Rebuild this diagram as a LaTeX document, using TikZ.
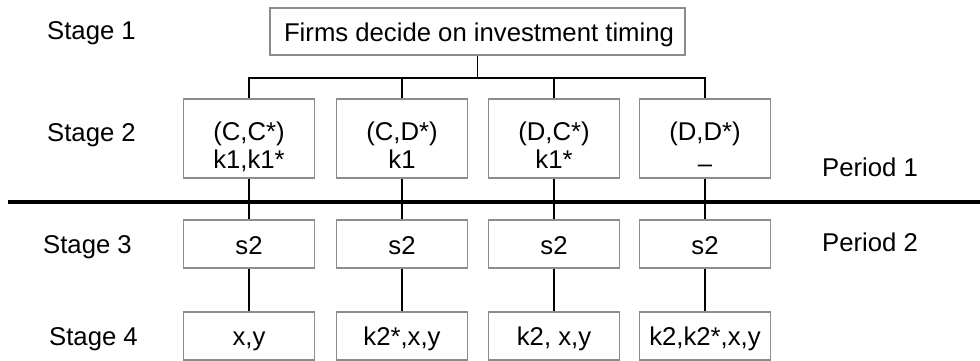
\documentclass[tikz,border=0pt]{standalone}
\usepackage{fontspec}
\setmainfont{Liberation Sans}
\definecolor{boxgray}{HTML}{8C8C8C}
\begin{document}
\begin{tikzpicture}[x=1pt,y=-1pt,
  font=\fontsize{25.7}{28}\selectfont,
  box/.style={draw=boxgray,line width=1.5pt,rectangle,inner sep=0pt,minimum width=131pt},
  tallbox/.style={box,minimum height=79pt},
  flatbox/.style={box,minimum height=48pt},
  conn/.style={draw=black,line width=1.6pt},
  txt/.style={anchor=base,inner sep=0pt},
  lbl/.style={anchor=base west,inner sep=0pt}]
\useasboundingbox (0,0) rectangle (980,361);

% top box
\node[box,minimum width=415pt,minimum height=47pt] (top) at (477.5,31.5) {};
\node[txt] (toptxt) at (479,42) {Firms decide on investment timing};

% stage labels
\node[lbl] (st1) at (47,40) {Stage 1};
\node[lbl] (st2) at (47,141) {Stage 2};
\node[lbl] (st3) at (43,253) {Stage 3};
\node[lbl] (st4) at (49,345) {Stage 4};
\node[lbl] (p1) at (822,176) {Period 1};
\node[lbl] (p2) at (822,251) {Period 2};

% stage 2 boxes
\node[tallbox] (b1) at (249,138.5) {};
\node[tallbox] (b2) at (402,138.5) {};
\node[tallbox] (b3) at (554,138.5) {};
\node[tallbox] (b4) at (705,138.5) {};
\node[txt] (b1a) at (249,140) {(C,C*)};
\node[txt] (b1b) at (249,168) {k1,k1*};
\node[txt] (b2a) at (402,140) {(C,D*)};
\node[txt] (b2b) at (402,168) {k1};
\node[txt] (b3a) at (554,140) {(D,C*)};
\node[txt] (b3b) at (554,168) {k1*};
\node[txt] (b4a) at (705,140) {(D,D*)};
\node[txt] (b4b) at (705,172) {–};

% stage 3 boxes
\node[flatbox] (c1) at (249,244) {};
\node[flatbox] (c2) at (402,244) {};
\node[flatbox] (c3) at (554,244) {};
\node[flatbox] (c4) at (705,244) {};
\node[txt] (c1t) at (249,254) {s2};
\node[txt] (c2t) at (402,254) {s2};
\node[txt] (c3t) at (554,254) {s2};
\node[txt] (c4t) at (705,254) {s2};

% stage 4 boxes
\node[flatbox] (d1) at (249,336) {};
\node[flatbox] (d2) at (402,336) {};
\node[flatbox] (d3) at (554,336) {};
\node[flatbox] (d4) at (705,336) {};
\node[txt] (d1t) at (249,345) {x,y};
\node[txt] (d2t) at (402,345) {k2*,x,y};
\node[txt] (d3t) at (554,345) {k2, x,y};
\node[txt] (d4t) at (705,345) {k2,k2*,x,y};

% period divider
\coordinate (divl) at (8,202);
\coordinate (divr) at (980,202);
\draw[line width=4pt] (divl) -- (divr);

% tree connectors
\coordinate (bar) at (0,78);
\draw[conn] (top.south) -- (top.south |- bar);
\draw[conn] (b1.north) -- (b1.north |- bar) -- (b4.north |- bar) -- (b4.north);
\draw[conn] (b2.north) -- (b2.north |- bar);
\draw[conn] (b3.north) -- (b3.north |- bar);

\foreach \i in {1,2,3,4}{
  \draw[conn] (b\i.south) -- (c\i.north);
  \draw[conn] (c\i.south) -- (d\i.north);
}
\end{tikzpicture}
\end{document}
